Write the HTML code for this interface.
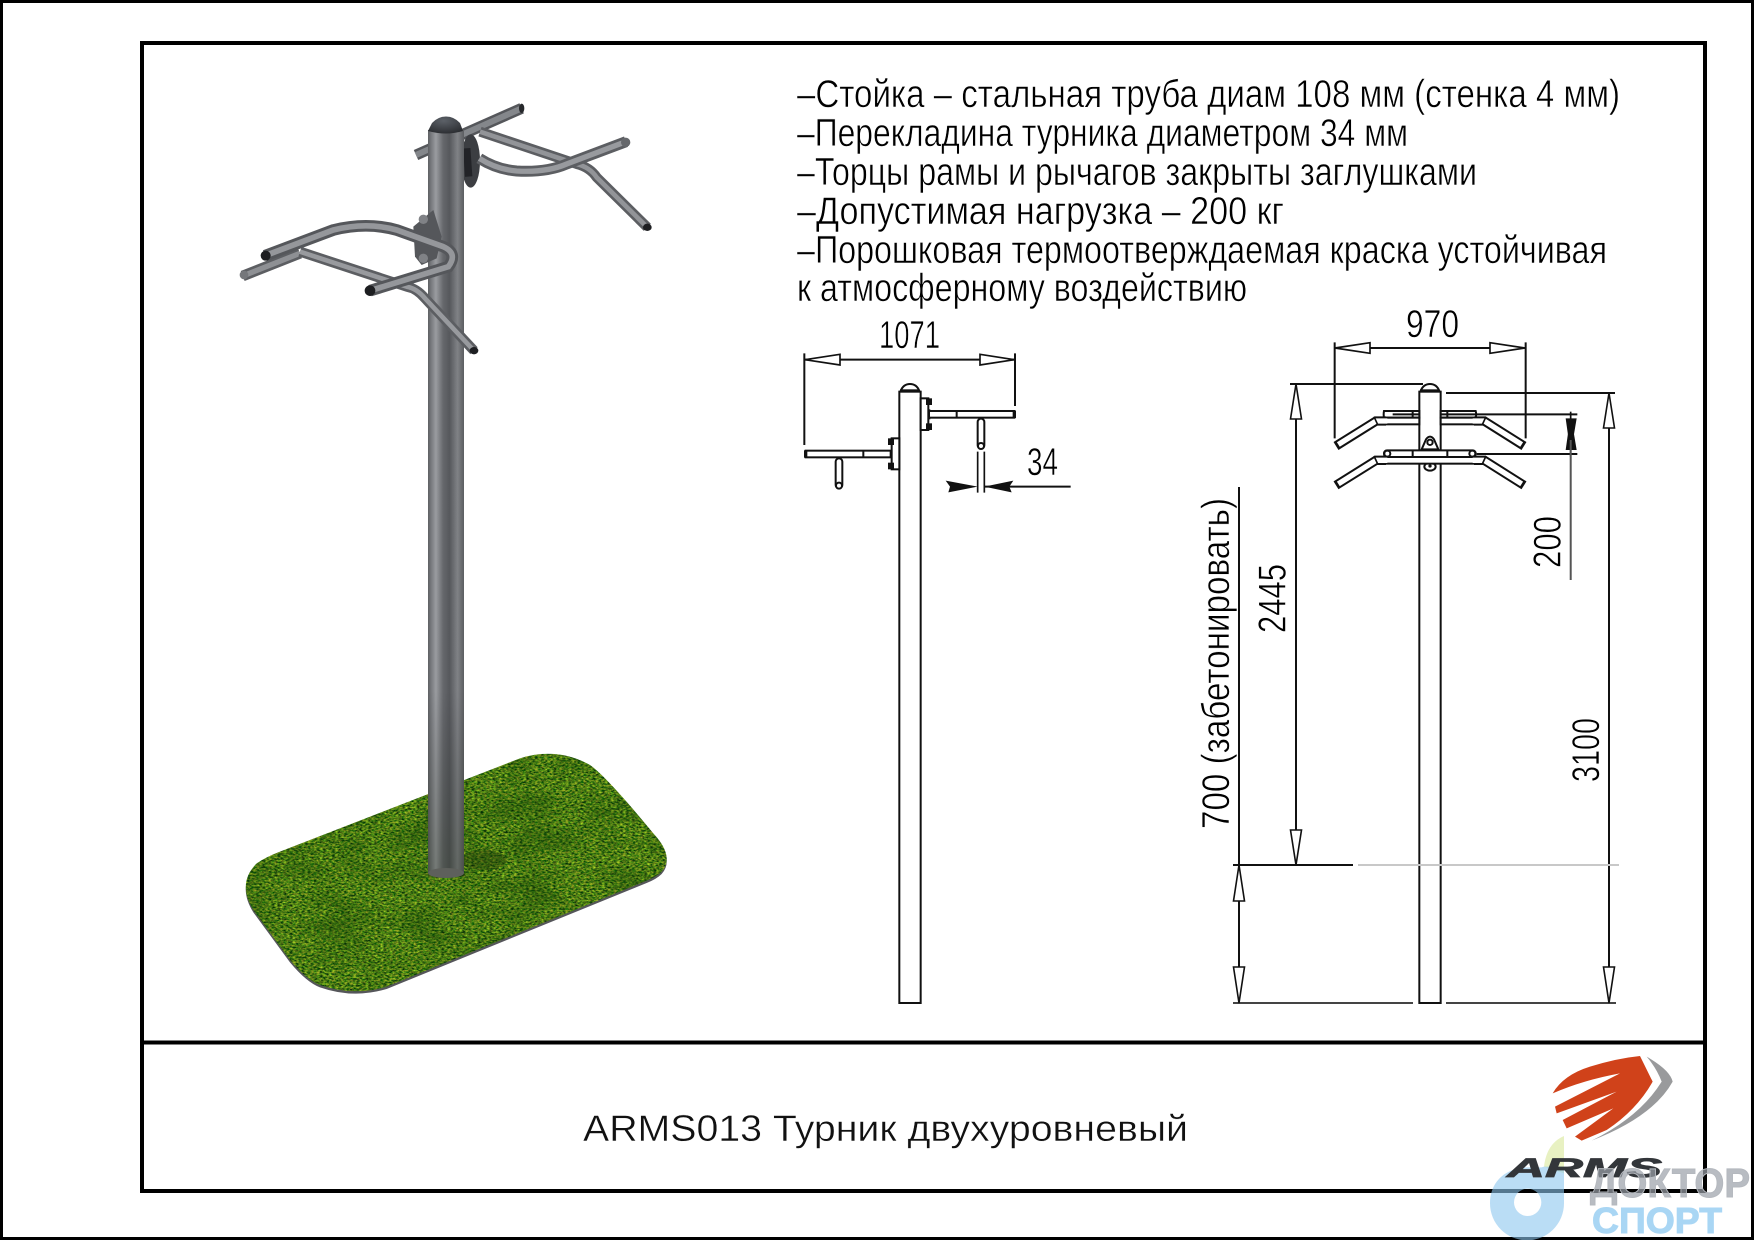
<!DOCTYPE html>
<html lang="ru"><head><meta charset="utf-8"><title>ARMS013</title>
<style>
html,body{margin:0;padding:0;background:#fff;width:1754px;height:1240px;overflow:hidden}
svg{display:block}
text{font-family:"Liberation Sans","Noto Sans CJK SC",sans-serif;fill:#000}
.thin text{stroke:#fff;stroke-width:.55}
</style></head><body>
<svg width="1754" height="1240" viewBox="0 0 1754 1240" xmlns="http://www.w3.org/2000/svg">
<defs>
<linearGradient id="post" x1="0" x2="1" y1="0" y2="0">
<stop offset="0" stop-color="#5e6063"/><stop offset=".08" stop-color="#75777b"/><stop offset=".22" stop-color="#9a9ca0"/><stop offset=".42" stop-color="#66686c"/><stop offset=".6" stop-color="#56585c"/><stop offset=".82" stop-color="#808286"/><stop offset="1" stop-color="#5c5e61"/>
</linearGradient>
<linearGradient id="postv" x1="0" x2="0" y1="0" y2="1">
<stop offset="0" stop-color="#000" stop-opacity="0"/><stop offset=".75" stop-color="#000" stop-opacity="0"/><stop offset="1" stop-color="#1c2a12" stop-opacity=".3"/>
</linearGradient>
<radialGradient id="dome" cx=".45" cy=".25" r=".8"><stop offset="0" stop-color="#5c6168"/><stop offset="1" stop-color="#2a2c30"/></radialGradient>
<clipPath id="gc"><path d="M180,335 L900,55 Q1010,20 1110,75 Q1160,110 1300,280 Q1365,350 1325,395 Q1310,410 1280,422 L500,740 Q400,770 300,735 Q260,720 210,660 L100,510 Q50,430 110,370 Q140,350 180,335 Z"/></clipPath>
<filter id="grass" x="0" y="0" width="1" height="1" color-interpolation-filters="sRGB">
<feTurbulence type="fractalNoise" baseFrequency="0.11 0.2" numOctaves="4" seed="7"/>
<feColorMatrix type="matrix" values="1.2 0 0 0 -.3  .95 .4 0 0 -.19  .2 0 0 0 -.02  0 0 0 0 1"/>
</filter>
<filter id="patch" x="0" y="0" width="1" height="1" color-interpolation-filters="sRGB">
<feTurbulence type="fractalNoise" baseFrequency="0.007 0.012" numOctaves="3" seed="3"/>
<feColorMatrix type="matrix" values="0 0 0 0 .1  0 0 0 0 .28  0 0 0 0 .03  3 0 0 0 -1.2"/>
</filter>
</defs>
<rect width="1754" height="1240" fill="#fff"/>
<rect x="1.5" y="1.5" width="1751" height="1237" fill="none" stroke="#000" stroke-width="3"/>
<rect x="142" y="43" width="1563" height="1148" fill="none" stroke="#000" stroke-width="4"/>
<line x1="142" y1="1042.5" x2="1705" y2="1042.5" stroke="#000" stroke-width="4"/>

<!-- grass base -->
<g transform="translate(220,740) scale(.33333)">
<path transform="translate(0,7)" d="M180,335 L900,55 Q1010,20 1110,75 Q1160,110 1300,280 Q1365,350 1325,395 Q1310,410 1280,422 L500,740 Q400,770 300,735 Q260,720 210,660 L100,510 Q50,430 110,370 Q140,350 180,335 Z" fill="#55565a"/>
<g clip-path="url(#gc)"><rect x="40" y="20" width="1330" height="760" filter="url(#grass)"/><rect x="40" y="20" width="1330" height="760" filter="url(#patch)" opacity=".35"/></g>
<ellipse cx="790" cy="360" rx="70" ry="30" fill="#1e3a08" opacity=".45"/>
</g>

<!-- render: back parts of upper frame -->
<g transform="translate(200,90) scale(.33333)" fill="none" stroke-linecap="butt">
<path d="M648,195 L965,55" stroke="#55575b" stroke-width="33"/><path d="M648,195 L965,55" stroke="#84878b" stroke-width="18"/>
<ellipse cx="965" cy="55" rx="8" ry="14" fill="#26282b"/>
<ellipse cx="812" cy="213" rx="28" ry="80" fill="#3c3e42"/>
<rect x="792" y="175" width="22" height="85" fill="#222327" transform="rotate(-4 800 215)"/>
<path d="M840,125 L1130,222 Q1170,232 1190,262 L1342,412" stroke="#5c5e62" stroke-width="30"/>
<path d="M840,125 L1130,222 Q1170,232 1190,262 L1342,412" stroke="#929498" stroke-width="14"/>
<path d="M1278,155 L1100,222 Q1040,248 950,243 Q890,238 838,205" stroke="#5c5e62" stroke-width="33"/>
<path d="M1278,155 L1100,222 Q1040,248 950,243 Q890,238 838,205" stroke="#989a9e" stroke-width="16"/>
<ellipse cx="1342" cy="412" rx="13" ry="11" fill="#1e1f22"/>
<circle cx="1277" cy="157" r="14" fill="#66686c"/>
</g>

<!-- post -->
<rect x="428" y="130" width="36" height="743" fill="url(#post)"/>
<rect x="428" y="130" width="36" height="747" fill="url(#postv)"/>
<ellipse cx="446" cy="873" rx="18" ry="5" fill="#5e605c"/>
<path d="M428,131 L432,123 Q438,116.500 446,116.500 Q454,116.500 460,123 L463,131 Q446,136 428,131 Z" fill="url(#dome)"/>

<!-- render: lower frame -->
<g transform="translate(200,90) scale(.33333)" fill="none">
<path d="M640,410 L700,360 L725,440 L710,505 L665,525 L645,500 Z" fill="#55575b"/>
<circle cx="670" cy="388" r="14" fill="#808286"/><circle cx="670" cy="505" r="14" fill="#808286"/>
<path d="M128,558 L300,490" stroke="#5c5e62" stroke-width="32"/><path d="M128,558 L300,490" stroke="#8e9094" stroke-width="16"/>
<path d="M300,485 L620,590 Q650,595 675,625 L822,782" stroke="#5c5e62" stroke-width="30"/>
<path d="M300,485 L620,590 Q650,595 675,625 L822,782" stroke="#989a9e" stroke-width="14"/>
<ellipse cx="822" cy="782" rx="13" ry="11" fill="#1e1f22"/>
<path d="M195,497 L400,420 Q500,395 590,420 L730,470 Q775,490 745,530 L510,602" stroke="#55575b" stroke-width="35"/>
<path d="M195,497 L400,420 Q500,395 590,420 L730,470 Q775,490 745,530 L510,602" stroke="#95979b" stroke-width="17"/>
<circle cx="197" cy="497" r="15" fill="#1d1e21"/><circle cx="510" cy="602" r="16" fill="#1d1e21"/>
<circle cx="132" cy="555" r="13" fill="#75777b"/>
</g>

<!-- spec text -->
<g font-size="39" class="thin">
<text x="797" y="107" textLength="823" lengthAdjust="spacingAndGlyphs">–Стойка – стальная труба диам 108 мм (стенка 4 мм)</text>
<text x="797" y="146" textLength="611" lengthAdjust="spacingAndGlyphs">–Перекладина турника диаметром 34 мм</text>
<text x="797" y="185" textLength="680" lengthAdjust="spacingAndGlyphs">–Торцы рамы и рычагов закрыты заглушками</text>
<text x="797" y="224" textLength="487" lengthAdjust="spacingAndGlyphs">–Допустимая нагрузка – 200 кг</text>
<text x="797" y="263" textLength="810" lengthAdjust="spacingAndGlyphs">–Порошковая термоотверждаемая краска устойчивая</text>
<text x="797" y="301" textLength="450" lengthAdjust="spacingAndGlyphs">к атмосферному воздействию</text>
<text x="879" y="348" textLength="61" lengthAdjust="spacingAndGlyphs">1071</text>
<text x="1027" y="475" textLength="31" lengthAdjust="spacingAndGlyphs">34</text>
<text x="1406" y="337" textLength="53" lengthAdjust="spacingAndGlyphs">970</text>
<text transform="translate(1229,829) rotate(-90)" textLength="331" lengthAdjust="spacingAndGlyphs">700 (забетонировать)</text>
<text transform="translate(1285.7,633) rotate(-90)" textLength="69" lengthAdjust="spacingAndGlyphs">2445</text>
<text transform="translate(1560.7,568) rotate(-90)" textLength="52" lengthAdjust="spacingAndGlyphs">200</text>
<text transform="translate(1599,782) rotate(-90)" textLength="64" lengthAdjust="spacingAndGlyphs">3100</text>
</g>

<!-- side elevation -->
<g transform="translate(780,310) scale(.33333)" fill="none">
<path stroke="#111" stroke-width="6" d="M73,130 V405 M705,130 V288 M75,149 H703"/>
<polygon points="75,149 180,133 180,165" fill="#fff" stroke="#111" stroke-width="5"/>
<polygon points="703,149 600,133 600,165" fill="#fff" stroke="#111" stroke-width="5"/>
<rect x="358" y="245" width="64" height="1834" fill="#fff" stroke="#111" stroke-width="6"/>
<path d="M362,243 Q370,222 390,222 Q410,222 418,243 Z" fill="#fff" stroke="#111" stroke-width="6"/>
<rect x="360" y="238" width="58" height="8" fill="#111"/>
<rect x="422" y="265" width="23" height="95" fill="#fff" stroke="#111" stroke-width="6"/>
<rect x="438" y="265" width="18" height="20" fill="#111"/><rect x="438" y="340" width="18" height="20" fill="#111"/><rect x="445" y="298" width="6" height="30" fill="#111"/>
<rect x="447" y="303" width="256" height="20" fill="#fff" stroke="#111" stroke-width="6"/>
<path d="M530,303 V323" stroke="#111" stroke-width="6"/><rect x="698" y="302" width="10" height="22" fill="#111"/>
<rect x="593" y="326" width="20" height="90" rx="10" fill="#fff" stroke="#111" stroke-width="6"/><circle cx="603" cy="408" r="9" fill="#fff" stroke="#111" stroke-width="6"/>
<rect x="335" y="385" width="23" height="93" fill="#fff" stroke="#111" stroke-width="6"/>
<rect x="324" y="385" width="18" height="20" fill="#111"/><rect x="324" y="458" width="18" height="20" fill="#111"/>
<rect x="77" y="422" width="255" height="20" fill="#fff" stroke="#111" stroke-width="6"/>
<path d="M250,422 V442" stroke="#111" stroke-width="6"/><rect x="72" y="421" width="10" height="22" fill="#111"/>
<rect x="167" y="445" width="20" height="90" rx="10" fill="#fff" stroke="#111" stroke-width="6"/><circle cx="177" cy="527" r="9" fill="#fff" stroke="#111" stroke-width="6"/>
<path d="M593,425 V548 M613,425 V548" stroke="#111" stroke-width="5"/>
<path d="M593,530 L497,512 L510,530 L505,547 Z" fill="#111"/>
<path d="M613,530 L700,512 L688,530 L695,547 Z" fill="#111"/>
<path d="M613,530 H872" stroke="#111" stroke-width="6"/>
</g>

<!-- front elevation -->
<g transform="translate(1300,310) scale(.33333)" fill="none">
<path stroke="#111" stroke-width="6" d="M104,97 V385 M677,97 V385 M105,114 H675"/>
<polygon points="105,114 210,98 210,130" fill="#fff" stroke="#111" stroke-width="5"/>
<polygon points="675,114 570,98 570,130" fill="#fff" stroke="#111" stroke-width="5"/>
<rect x="358" y="245" width="64" height="1834" fill="#fff" stroke="#111" stroke-width="6"/>
<path d="M362,243 Q370,222 390,222 Q410,222 418,243 Z" fill="#fff" stroke="#111" stroke-width="6"/>
<rect x="360" y="238" width="58" height="8" fill="#111"/>
<!-- upper frame -->
<g stroke="#111" stroke-width="6" fill="#fff">
<path d="M252,303 H358 V323 H252 Q250,313 252,303 Z M422,303 H527 Q530,313 527,323 H422 Z"/>
<path d="M338,303 V323 M442,303 V323"/>
<rect x="258" y="323" width="100" height="20"/><rect x="422" y="323" width="100" height="20"/>
</g>
<path d="M258,333 H228 L108,408 M522,333 H553 L672,408" stroke="#111" stroke-width="28" fill="none"/>
<path d="M262,333 H228 L115,403.600 M518,333 H553 L665,403.600" stroke="#fff" stroke-width="16" fill="none"/>
<path d="M222,320 L234,346 M558,320 L546,346" stroke="#111" stroke-width="5"/>
<!-- plate -->
<path d="M365,418 L378,388 Q390,372 402,388 L415,418 Z" fill="#fff" stroke="#111" stroke-width="6"/>
<circle cx="390" cy="397" r="8" fill="#fff" stroke="#111" stroke-width="6"/>
<ellipse cx="390" cy="470" rx="17" ry="12" fill="#fff" stroke="#111" stroke-width="6"/>
<circle cx="390" cy="468" r="5" fill="#111"/>
<!-- lower frame -->
<g stroke="#111" stroke-width="6" fill="#fff">
<rect x="252" y="421" width="275" height="20" rx="9"/>
<path d="M338,421 V441 M442,421 V441"/>
<rect x="258" y="441" width="264" height="20"/>
</g>
<circle cx="262" cy="431" r="9" fill="#fff" stroke="#111" stroke-width="6"/><circle cx="517" cy="431" r="9" fill="#fff" stroke="#111" stroke-width="6"/>
<path d="M258,451 H228 L108,526 M522,451 H553 L672,526" stroke="#111" stroke-width="28" fill="none"/>
<path d="M262,451 H228 L115,521.600 M518,451 H553 L665,521.600" stroke="#fff" stroke-width="16" fill="none"/>
<path d="M222,438 L234,464 M558,438 L546,464" stroke="#111" stroke-width="5"/>
<!-- dims -->
<path stroke="#111" stroke-width="6" d="M278,313 H358 M422,313 H832 M530,432 H832"/>
<path d="M797,325 L830,325 L812,432 Z" fill="#111"/>
<path d="M797,420 L830,420 L812,313 Z" fill="#111"/>
<path d="M812,305 V440" stroke="#111" stroke-width="5"/>
</g>
<g fill="none" stroke="#111" stroke-width="2">
<path d="M1290,384 H1423"/>
<path d="M1446,393 H1615"/>
<path d="M1296,384 V865"/>
<path d="M1239,487 V1003"/>
<path d="M1609,393 V1003"/>
<path d="M1570.700,440 V580" stroke="#555"/>
<path d="M1233,865 H1353"/>
<path d="M1358,865 H1619" stroke="#c8c8c8"/>
<path d="M1233,1003 H1413" stroke="#444"/>
<path d="M1446,1003 H1616" stroke="#444"/>
</g>
<g fill="#fff" stroke="#111" stroke-width="1.600">
<polygon points="1296,384 1290.500,419 1301.500,419"/>
<polygon points="1296,865 1290.500,830 1301.500,830"/>
<polygon points="1239,865 1233.500,901 1244.500,901"/>
<polygon points="1239,1003 1233.500,967 1244.500,967"/>
<polygon points="1609,393 1603.500,428 1614.500,428"/>
<polygon points="1609,1003 1603.500,967 1614.500,967"/>
</g>

<!-- title -->
<text x="583" y="1141" font-size="37" textLength="605" lengthAdjust="spacingAndGlyphs" style="fill:#111;stroke:#fff;stroke-width:.4">ARMS013 Турник двухуровневый</text>

<!-- logo + watermark -->
<g transform="translate(1440,1040) scale(.33333)">
<path d="M312,380 Q320,310 372,288 V400 Z" fill="#e6efbb" opacity=".9"/>
<path fill-rule="evenodd" d="M150,490 C150,430 190,385 262,382 H305 L312,380 H372 V490 A111,111 0 0 1 150,490 Z M222,487 A41,41 0 1 0 304,487 A41,41 0 1 0 222,487 Z" fill="#8cc6ef" fill-opacity=".6"/>
<path d="M338,160 Q370,105 450,80 Q530,55 600,48 L638,125 Q590,210 500,270 L425,302 L405,290 L520,205 L380,265 L368,240 L530,155 L350,220 L345,200 L540,100 Q430,120 338,160 Z" fill="#d0421a"/>
<path d="M620,50 Q690,90 698,125 Q640,230 455,302 Q600,230 665,125 Q650,85 620,50 Z" fill="#999a9c"/>
</g>
<text x="1507" y="1177" font-size="27" font-weight="700" font-style="italic" textLength="155" lengthAdjust="spacingAndGlyphs" style="fill:#33363a;stroke:#33363a;stroke-width:.8">ARMS</text>
<text x="1590" y="1197" font-size="41" font-weight="700" textLength="160" lengthAdjust="spacingAndGlyphs" style="fill:#9aa0a8;fill-opacity:.7;stroke:#b4b8be;stroke-width:1">ДОКТОР</text>
<text x="1592" y="1233" font-size="36" font-weight="700" textLength="130" lengthAdjust="spacingAndGlyphs" style="fill:#a9d6f4;stroke:#a9d6f4;stroke-width:1">СПОРТ</text>
</svg>
</body></html>
